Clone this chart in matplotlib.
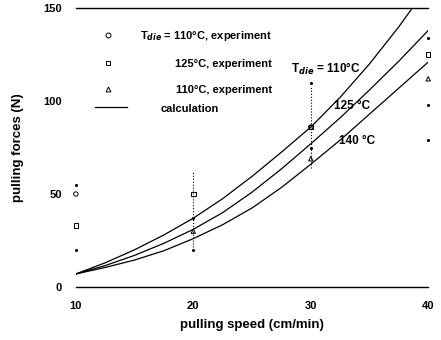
import matplotlib.pyplot as plt
import numpy as np

plt.rcParams["font.family"] = ["Liberation Sans", "DejaVu Sans"]
plt.rcParams["font.weight"] = "bold"
plt.rcParams["axes.labelweight"] = "bold"

# calculated curves
speed = [10, 12.5, 15, 17.5, 20, 22.5, 25, 27.5, 30, 32.5, 35, 37.5, 40]
calc_110 = [7, 13, 20, 28, 37, 47.5, 59.5, 72.5, 86, 102, 120, 140, 162]
calc_125 = [7, 11.5, 17, 23.5, 31, 40, 51, 63.5, 77, 91, 106, 121.5, 138]
calc_140 = [7, 10.5, 14.5, 19.5, 26, 33.5, 42.5, 53.5, 66, 79, 93, 107, 121]

# scattered experiment marks (scan)
exp_circle_x = [10, 30]
exp_circle_y = [50, 86]
exp_square_x = [10, 20, 30, 40]
exp_square_y = [33, 50, 86, 125]
exp_tri_x = [20, 30, 40]
exp_tri_y = [30, 69, 112]
exp_dot_x = [10, 10, 20, 20, 30, 30, 40, 40, 40]
exp_dot_y = [20, 55, 37, 20, 75, 110, 134, 98, 79]
bar_x = [20, 30]
bar_lo = [20, 64]
bar_hi = [62, 108]

curve_labels = ["T$_{die}$ = 110°C", "125 °C", "140 °C"]
legend_labels = ["T$_{die}$ = 110°C, experiment", "125°C, experiment",
                 "110°C, experiment", "calculation"]

fig = plt.figure(figsize=(4.41, 3.4), dpi=100)
ax = fig.add_axes([0.172, 0.156, 0.799, 0.82])

for ys in (calc_110, calc_125, calc_140):
    ax.plot(speed, ys, color="black", lw=0.9)

ax.vlines(bar_x, bar_lo, bar_hi, colors="black", lw=0.8, linestyles=":")
ax.scatter(exp_circle_x, exp_circle_y, marker="o", s=10, facecolors="none",
           edgecolors="black", lw=0.7, clip_on=False, zorder=3)
ax.scatter(exp_square_x, exp_square_y, marker="s", s=10, facecolors="none",
           edgecolors="black", lw=0.7, clip_on=False, zorder=3)
ax.scatter(exp_tri_x, exp_tri_y, marker="^", s=10, facecolors="none",
           edgecolors="black", lw=0.7, clip_on=False, zorder=3)
ax.scatter(exp_dot_x, exp_dot_y, marker=".", s=6, color="black",
           clip_on=False, zorder=3)

ax.text(28.3, 115, curve_labels[0], fontsize=8.5)
ax.text(32.0, 96, curve_labels[1], fontsize=8.5)
ax.text(32.4, 77, curve_labels[2], fontsize=8.5)

# hand-placed legend
lx = 0.09
ax.plot([lx], [0.905], marker="o", ms=3.5, mfc="none", mec="black", mew=0.7,
        transform=ax.transAxes, clip_on=False)
ax.plot([lx], [0.805], marker="s", ms=3.5, mfc="none", mec="black", mew=0.7,
        transform=ax.transAxes, clip_on=False)
ax.plot([lx], [0.71], marker="^", ms=3.5, mfc="none", mec="black", mew=0.7,
        transform=ax.transAxes, clip_on=False)
ax.plot([0.055, 0.145], [0.645, 0.645], color="black", lw=0.9,
        transform=ax.transAxes)
ys_leg = [0.9, 0.8, 0.705]
for y, lab in zip(ys_leg, legend_labels[:3]):
    ax.text(0.557, y, lab, fontsize=8, ha="right", va="center",
            transform=ax.transAxes)
ax.text(0.24, 0.64, legend_labels[3], fontsize=8, ha="left", va="center",
        transform=ax.transAxes)

ax.set_xlim(10, 40)
ax.set_ylim(0, 150)
ax.set_xticks([10, 20, 30, 40])
ax.set_yticks([0, 50, 100, 150])
ax.tick_params(length=0, labelsize=8, pad=10)
for lab in ax.get_xticklabels() + ax.get_yticklabels():
    lab.set_fontweight("bold")
ax.spines["left"].set_visible(False)
ax.spines["right"].set_visible(False)
ax.spines["top"].set_linewidth(1.0)
ax.spines["bottom"].set_linewidth(1.0)
ax.set_xlabel("pulling speed (cm/min)", fontsize=9.5, labelpad=6)
ax.set_ylabel("pulling forces (N)", fontsize=9.5, labelpad=14)

fig.savefig("out.png", dpi=100)
